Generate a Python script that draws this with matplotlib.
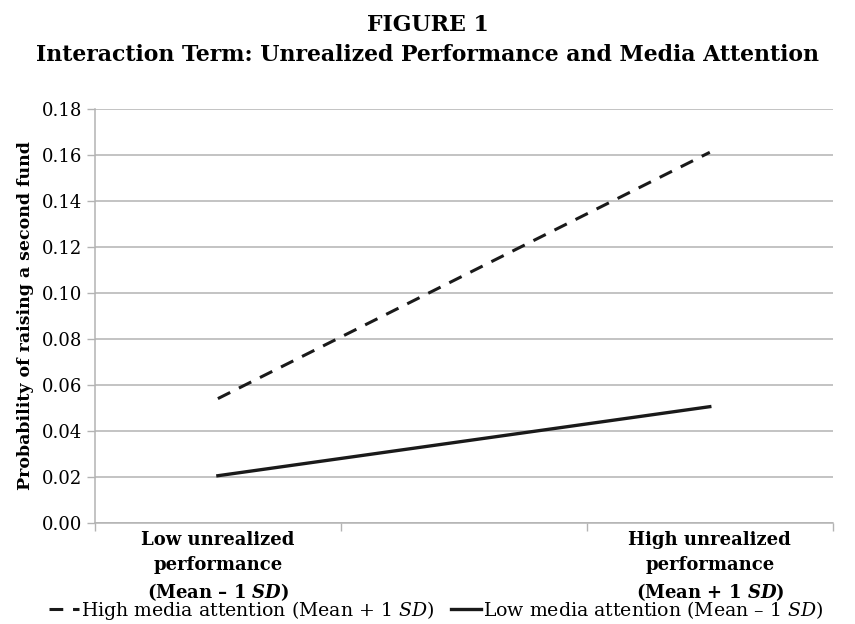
import matplotlib
matplotlib.use("Agg")
import matplotlib.pyplot as plt
from matplotlib.ticker import FixedLocator

plt.rcParams['font.family'] = ['DejaVu Serif']
plt.rcParams['mathtext.fontset'] = 'custom'
plt.rcParams['mathtext.rm'] = 'DejaVu Serif'
plt.rcParams['mathtext.it'] = 'DejaVu Serif:italic'
plt.rcParams['mathtext.bf'] = 'DejaVu Serif:bold'
plt.rcParams['mathtext.bfit'] = 'DejaVu Serif:bold:italic'

# data
categories = ["Low unrealized\nperformance\n(Mean – 1 $\\mathbfit{SD}$)", "",
              "High unrealized\nperformance\n(Mean + 1 $\\mathbfit{SD}$)"]
point_idx = [0, 2]
high_media = [0.054, 0.161]
low_media = [0.0205, 0.0505]
yticks = [0.00, 0.02, 0.04, 0.06, 0.08, 0.10, 0.12, 0.14, 0.16, 0.18]

grid_col = "#b3b3b3"

fig = plt.figure(figsize=(8.55, 6.24), dpi=100)
ax = fig.add_axes([0.111, 0.162, 0.863, 0.664])

ax.plot(point_idx, high_media, color="#1a1a1a", lw=2.2, dashes=(4.5, 3.2),
        label="High media attention (Mean + 1 $\\mathit{SD}$)")
ax.plot(point_idx, low_media, color="#1a1a1a", lw=2.4,
        label="Low media attention (Mean – 1 $\\mathit{SD}$)")

ax.set_xlim(-0.5, 2.5)
ax.set_ylim(0, 0.18)
ax.set_yticks(yticks)
ax.set_yticklabels([f"{v:.2f}" for v in yticks], fontsize=13)
ax.set_xticks(range(len(categories)))
ax.set_xticklabels(categories, fontsize=13, fontweight="bold", linespacing=1.45)
ax.xaxis.set_minor_locator(FixedLocator([-0.5, 0.5, 1.5, 2.5]))
ax.tick_params(axis="x", which="major", length=0, pad=6)
ax.tick_params(axis="x", which="minor", length=6, color=grid_col, width=1)
ax.tick_params(axis="y", length=6, color=grid_col, width=1, pad=3)

ax.grid(axis="y", color=grid_col, lw=1.1)
ax.set_axisbelow(True)
for s in ["top", "right"]:
    ax.spines[s].set_visible(False)
for s in ["left", "bottom"]:
    ax.spines[s].set_color(grid_col)
    ax.spines[s].set_linewidth(1.1)

ax.set_ylabel("Probability of raising a second fund", fontsize=12.5,
              fontweight="bold", labelpad=6)

fig.text(0.5, 0.96, "FIGURE 1", ha="center", va="center",
         fontsize=15.8, fontweight="bold")
fig.text(0.5, 0.912, "Interaction Term: Unrealized Performance and Media Attention",
         ha="center", va="center", fontsize=15.8, fontweight="bold")

fig.legend(loc="center", bbox_to_anchor=(0.51, 0.022), ncol=2, frameon=False,
           fontsize=13.6, handlelength=1.6, handletextpad=0.1,
           columnspacing=0.9, borderpad=0)

fig.savefig("out.png", dpi=100)
